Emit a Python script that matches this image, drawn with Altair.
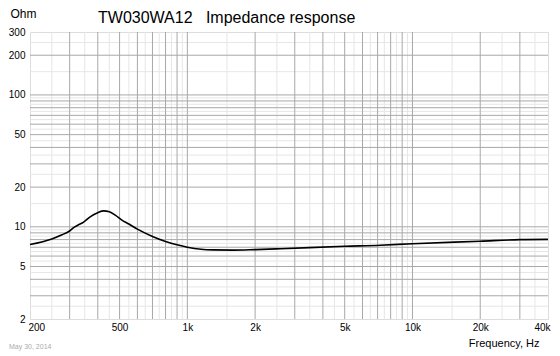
import altair as alt
import pandas as pd

# Impedance curve
freq = [200, 250, 276, 300, 316, 330, 345, 370, 400, 425, 450, 480, 510, 550, 600, 700,
        800, 900, 1000, 1150, 1300, 1600, 2000, 2600, 5000, 7200, 10000, 20000, 30000, 40000]
ohm = [7.35, 8.1, 8.67, 9.3, 10.0, 10.4, 10.8, 11.9, 12.8, 13.2, 13.0, 12.2, 11.3, 10.5, 9.6, 8.45,
       7.75, 7.3, 7.0, 6.75, 6.68, 6.66, 6.72, 6.82, 7.12, 7.25, 7.45, 7.78, 7.99, 8.03]

# Axis labels
x_ticks = [200, 500, 1000, 2000, 5000, 10000, 20000, 40000]
y_ticks = [2, 5, 10, 20, 50, 100, 200, 300]

# Grid lines
x_major = [300, 400, 500, 600, 700, 800, 900, 1000, 2000, 3000, 4000, 5000, 6000, 7000,
           8000, 9000, 10000, 20000, 30000]
x_minor = [250, 350, 450, 550, 650, 750, 850, 950, 1500, 2500, 3500, 4500, 5500, 6500,
           7500, 8500, 9500, 15000, 25000, 35000]
y_major = [3, 4, 5, 6, 7, 8, 9, 10, 20, 30, 40, 50, 60, 70, 80, 90, 100, 200]
y_minor = [2.5, 3.5, 4.5, 5.5, 6.5, 7.5, 8.5, 9.5, 15, 25, 35, 45, 55, 65, 75, 85, 95,
           150, 250]

title_text = ["TW030WA12\u00a0\u00a0\u00a0Impedance response"]
date_text = ["May 30, 2014"]

FONT = "Liberation Sans"

xscale = alt.Scale(type="log", domain=[200, 40000], nice=False)
yscale = alt.Scale(type="log", domain=[2, 300], nice=False)

xaxis = alt.Axis(values=x_ticks, grid=False, ticks=False, domain=False,
                 labelExpr="datum.value >= 1000 ? (datum.value / 1000) + 'k' : datum.value",
                 labelFont=FONT, labelFontSize=10, labelColor="#000", labelPadding=3,
                 labelFlush=True, labelFlushOffset=2,
                 title="Frequency, Hz", titleFont=FONT, titleFontSize=11,
                 titleFontWeight="normal", titleColor="#000",
                 titleX=509, titleY=27.5, titleAlign="right", titleBaseline="alphabetic")
yaxis = alt.Axis(values=y_ticks, grid=False, ticks=False, domain=False,
                 labelFont=FONT, labelFontSize=10, labelColor="#000", labelPadding=5,
                 title="Ohm", titleFont=FONT, titleFontSize=12, titleFontWeight="normal",
                 titleColor="#000", titleAngle=0, titleX=-20, titleY=-15,
                 titleAlign="left", titleBaseline="alphabetic")

curve_df = pd.DataFrame({"f": freq, "z": ohm})

xminor = alt.Chart(pd.DataFrame({"f": x_minor})).mark_rule(
    color="#e6e6e6", strokeWidth=1).encode(x=alt.X("f:Q", scale=xscale, axis=xaxis))
yminor = alt.Chart(pd.DataFrame({"z": y_minor})).mark_rule(
    color="#e6e6e6", strokeWidth=1).encode(y=alt.Y("z:Q", scale=yscale, axis=yaxis))
xmajor = alt.Chart(pd.DataFrame({"f": x_major})).mark_rule(
    color="#a8a8a8", strokeWidth=1).encode(x=alt.X("f:Q", scale=xscale, axis=xaxis))
ymajor = alt.Chart(pd.DataFrame({"z": y_major})).mark_rule(
    color="#a8a8a8", strokeWidth=1).encode(y=alt.Y("z:Q", scale=yscale, axis=yaxis))

curve = alt.Chart(curve_df).mark_line(
    color="#000", strokeWidth=1.6, interpolate="monotone").encode(
    x=alt.X("f:Q", scale=xscale, axis=xaxis),
    y=alt.Y("z:Q", scale=yscale, axis=yaxis))

title = alt.Chart(pd.DataFrame({"t": title_text})).mark_text(
    align="left", baseline="alphabetic", font=FONT, fontSize=16, color="#000").encode(
    text="t:N", x=alt.value(68), y=alt.value(-9))

date = alt.Chart(pd.DataFrame({"t": date_text})).mark_text(
    align="left", baseline="alphabetic", font=FONT, fontSize=7, color="#aaaaaa").encode(
    text="t:N", x=alt.value(-21), y=alt.value(317))

chart = alt.layer(xminor, yminor, xmajor, ymajor, curve, title, date).properties(
    width=518, height=287,
    autosize=alt.AutoSizeParams(type="none"),
    padding={"left": 22, "top": 24, "right": 4, "bottom": 37},
).configure_view(stroke="#000", strokeWidth=1.5).configure(background="#ffffff")

chart.save("out.html", embed_options={"renderer": "svg", "actions": False})
